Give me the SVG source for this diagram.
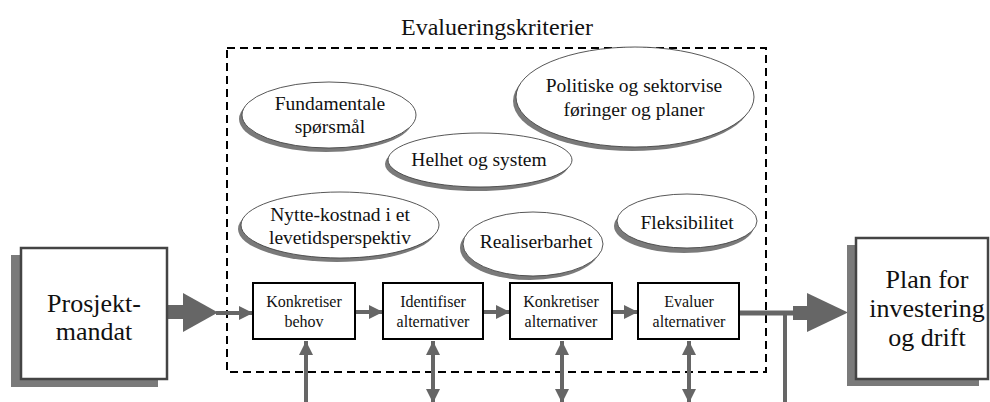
<svg xmlns="http://www.w3.org/2000/svg" width="990" height="402" viewBox="0 0 990 402">
  <defs>
    <marker id="head" viewBox="0 0 14 14" refX="14" refY="7" markerWidth="14" markerHeight="14" markerUnits="userSpaceOnUse" orient="auto-start-reverse">
      <path d="M0,0 L14,7 L0,14 Z" fill="#666"/>
    </marker>
  </defs>
  <style>
    text { font-family: "Liberation Serif", "Times New Roman", serif; fill: #111; text-anchor: middle; }
    .big { font-size: 26px; }
    .title { font-size: 24px; }
    .crit { font-size: 19.5px; }
    .step { font-size: 16px; }
    .shadow { fill: #7a7a7a; }
    .bigbox { fill: #fff; stroke: #444; stroke-width: 2.5; }
    .stepbox { fill: #fff; stroke: #000; stroke-width: 2; }
    .oval { fill: #fff; stroke: #444; stroke-width: 0.9; }
    .flow { stroke: #666; stroke-width: 4; fill: none; }
    .gray { fill: #666; }
  </style>

  <rect width="990" height="402" fill="#fff"/>

  <!-- criteria frame -->
  <g id="criteria-frame">
    <text class="title" x="497" y="35">Evalueringskriterier</text>
    <rect x="227" y="48" width="539" height="324" fill="none" stroke="#000" stroke-width="2" stroke-dasharray="8,5"/>
  </g>

  <!-- criteria ovals, each with a grey drop shadow -->
  <g id="crit-fundamentale">
    <ellipse class="shadow" cx="326" cy="119" rx="87" ry="33"/>
    <ellipse class="oval" cx="329" cy="115" rx="87" ry="33"/>
    <text class="crit" x="330" y="110">Fundamentale</text>
    <text class="crit" x="330" y="133">spørsmål</text>
  </g>
  <g id="crit-politiske">
    <ellipse class="shadow" cx="632" cy="101" rx="119" ry="50"/>
    <ellipse class="oval" cx="635" cy="97" rx="119" ry="50"/>
    <text class="crit" x="634" y="92">Politiske og sektorvise</text>
    <text class="crit" x="634" y="116">føringer og planer</text>
  </g>
  <g id="crit-helhet">
    <ellipse class="shadow" cx="477" cy="164" rx="92" ry="27"/>
    <ellipse class="oval" cx="480" cy="160" rx="92" ry="27"/>
    <text class="crit" x="479" y="166">Helhet og system</text>
  </g>
  <g id="crit-nytte">
    <ellipse class="shadow" cx="337" cy="229" rx="99" ry="33"/>
    <ellipse class="oval" cx="340" cy="225" rx="99" ry="33"/>
    <text class="crit" x="340" y="221">Nytte-kostnad i et</text>
    <text class="crit" x="340" y="244">levetidsperspektiv</text>
  </g>
  <g id="crit-realiserbarhet">
    <ellipse class="shadow" cx="530" cy="248" rx="70" ry="32"/>
    <ellipse class="oval" cx="533" cy="244" rx="70" ry="32"/>
    <text class="crit" x="536" y="248">Realiserbarhet</text>
  </g>
  <g id="crit-fleksibilitet">
    <ellipse class="shadow" cx="684" cy="226" rx="70" ry="27"/>
    <ellipse class="oval" cx="687" cy="221" rx="70" ry="27"/>
    <text class="crit" x="687" y="229">Fleksibilitet</text>
  </g>

  <!-- connectors -->
  <g id="connectors">
    <!-- mandate into first step -->
    <rect class="gray" x="166" y="305" width="18" height="14"/>
    <polygon class="gray" points="183,293 218,312.5 183,332"/>
    <line class="flow" x1="216" y1="313" x2="253" y2="313" marker-end="url(#head)"/>
    <!-- between steps -->
    <line class="flow" x1="355" y1="312" x2="383" y2="312" marker-end="url(#head)"/>
    <line class="flow" x1="483" y1="312" x2="510" y2="312" marker-end="url(#head)"/>
    <line class="flow" x1="612" y1="312" x2="638" y2="312" marker-end="url(#head)"/>
    <!-- vertical links below steps -->
    <line class="flow" x1="306" y1="402" x2="306" y2="341" marker-end="url(#head)"/>
    <line class="flow" x1="433" y1="403" x2="433" y2="341" marker-start="url(#head)" marker-end="url(#head)"/>
    <line class="flow" x1="562" y1="403" x2="562" y2="341" marker-start="url(#head)" marker-end="url(#head)"/>
    <line class="flow" x1="689" y1="403" x2="689" y2="341" marker-start="url(#head)" marker-end="url(#head)"/>
    <!-- output to plan -->
    <line stroke="#666" stroke-width="5" x1="739" y1="313" x2="795" y2="313"/>
    <line class="flow" x1="785" y1="313" x2="785" y2="402"/>
    <rect class="gray" x="793" y="306" width="16" height="14"/>
    <polygon class="gray" points="807,293 848,312.5 807,332"/>
  </g>

  <!-- start box -->
  <g id="prosjektmandat">
    <rect class="shadow" x="11" y="255" width="147" height="132"/>
    <rect class="bigbox" x="21" y="248" width="146" height="131"/>
    <text class="big" x="94" y="312">Prosjekt-</text>
    <text class="big" x="94" y="340">mandat</text>
  </g>

  <!-- process steps -->
  <g id="step-konkretiser-behov">
    <rect class="stepbox" x="253" y="283" width="102" height="56"/>
    <text class="step" x="304" y="307">Konkretiser</text>
    <text class="step" x="304" y="327">behov</text>
  </g>
  <g id="step-identifiser">
    <rect class="stepbox" x="383" y="283" width="100" height="56"/>
    <text class="step" x="433" y="307">Identifiser</text>
    <text class="step" x="433" y="327">alternativer</text>
  </g>
  <g id="step-konkretiser-alt">
    <rect class="stepbox" x="510" y="283" width="102" height="56"/>
    <text class="step" x="561" y="307">Konkretiser</text>
    <text class="step" x="561" y="327">alternativer</text>
  </g>
  <g id="step-evaluer">
    <rect class="stepbox" x="638" y="283" width="101" height="56"/>
    <text class="step" x="689" y="307">Evaluer</text>
    <text class="step" x="689" y="327">alternativer</text>
  </g>

  <!-- result box -->
  <g id="plan">
    <rect class="shadow" x="847" y="245" width="132" height="141"/>
    <rect class="bigbox" x="856" y="238" width="132" height="141"/>
    <text class="big" x="927" y="288">Plan for</text>
    <text class="big" x="927" y="317">investering</text>
    <text class="big" x="927" y="346">og drift</text>
  </g>
</svg>
